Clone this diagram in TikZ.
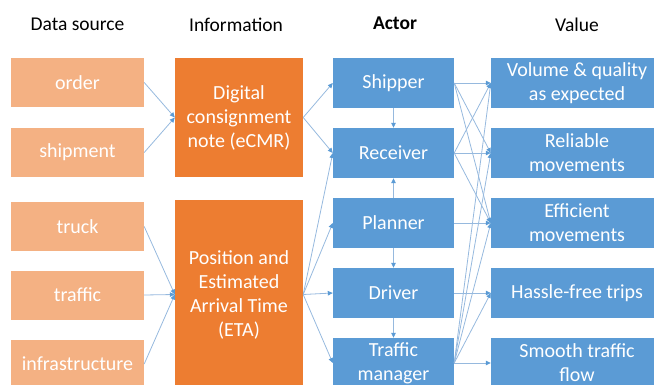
\documentclass[tikz,border=0pt]{standalone}
\usepackage{fontspec}
\setmainfont{Carlito}
\usetikzlibrary{arrows.meta}
\definecolor{srcorange}{RGB}{244,177,131}
\definecolor{infoorange}{RGB}{237,125,49}
\definecolor{actorblue}{RGB}{91,155,213}
\definecolor{linkblue}{RGB}{150,185,222}
\definecolor{tipblue}{RGB}{91,155,213}
\begin{document}
\begin{tikzpicture}[x=1pt,y=-1pt,
  box/.style={rectangle, inner sep=0pt, text=white, align=center,
    font=\fontsize{20}{24}\selectfont},
  srcbox/.style={box, fill=srcorange, minimum width=133pt, minimum height=49pt},
  infobox/.style={box, fill=infoorange, minimum width=128pt},
  actorbox/.style={box, fill=actorblue, minimum width=121pt, minimum height=50pt},
  valuebox/.style={box, fill=actorblue, minimum width=172pt, minimum height=50pt},
  header/.style={anchor=base, text=black, font=\fontsize{19.5}{23}\selectfont},
  link/.style={draw=linkblue, line width=0.8pt,
    -{Triangle[length=5pt,width=4.5pt,color=tipblue]}}
]
\useasboundingbox (0,0) rectangle (654,385);

% column headers
\node[header] (hsrc) at (77.5,30.5) {Data source};
\node[header] (hinfo) at (236,31.5) {Information};
\node[header, font=\fontsize{19.5}{23}\selectfont\bfseries] (hact) at (395,30) {Actor};
\node[header] (hval) at (577,31.5) {Value};

\begin{scope}
\clip (0,0) rectangle (654,385);
% data sources
\node[srcbox] (order) at (77.5,82.5) {order};
\node[srcbox] (shipment) at (77.5,152.5) {shipment};
\node[srcbox] (truck) at (77.5,226.5) {truck};
\node[srcbox] (traffic) at (77.5,295) {traffic};
\node[srcbox] (infra) at (77.5,364) {infrastructure};
% information
\node[infobox, minimum height=119pt] (ecmr) at (239,117.5)
  {Digital\\consignment\\note (eCMR)};
\node[infobox, minimum height=189pt] (eta) at (239,294.5)
  {Position and\\Estimated\\Arrival Time\\(ETA)};
% actors
\node[actorbox] (shipper) at (393.5,83) {Shipper};
\node[actorbox] (receiver) at (393.5,153) {Receiver};
\node[actorbox] (planner) at (393.5,223) {Planner};
\node[actorbox] (driver) at (393.5,293) {Driver};
\node[actorbox] (tman) at (393.5,363) {Traffic\\manager};
% values
\node[valuebox] (volume) at (577,83) {Volume \& quality\\as expected};
\node[valuebox] (reliable) at (577,153) {Reliable\\movements};
\node[valuebox] (efficient) at (577,223) {Efficient\\movements};
\node[valuebox] (hassle) at (577,293) {Hassle-free trips};
\node[valuebox] (smooth) at (577,363) {Smooth traffic\\flow};
\end{scope}

% data sources to information
\draw[link] (order.east) -- (ecmr.west);
\draw[link] (shipment.east) -- (ecmr.west);
\draw[link] (truck.east) -- (eta.west);
\draw[link] (traffic.east) -- (eta.west);
\draw[link] (infra.east) -- (eta.west);

% information to actors
\draw[link] (ecmr.east) -- (shipper.west);
\draw[link] (ecmr.east) -- (receiver.west);
\draw[link] (eta.east) -- (receiver.west);
\draw[link] (eta.east) -- (planner.west);
\draw[link] (eta.east) -- (driver.west);
\draw[link] (eta.east) -- (tman.west);

% between actors
\draw[link] (shipper.south) -- (receiver.north);
\draw[link] (planner.north) -- (receiver.south);
\draw[link] (planner.south) -- (driver.north);
\draw[link] (driver.south) -- (tman.north);

% actors to values
\draw[link] (shipper.east) -- (volume.west);
\draw[link] (shipper.east) -- (reliable.west);
\draw[link] (shipper.east) -- (efficient.west);
\draw[link] (receiver.east) -- (volume.west);
\draw[link] (receiver.east) -- (reliable.west);
\draw[link] (receiver.east) -- (efficient.west);
\draw[link] (planner.east) -- (efficient.west);
\draw[link] (driver.east) -- (hassle.west);
\draw[link] (tman.east) -- (volume.west);
\draw[link] (tman.east) -- (reliable.west);
\draw[link] (tman.east) -- (efficient.west);
\draw[link] (tman.east) -- (hassle.west);
\draw[link] (tman.east) -- (smooth.west);
\end{tikzpicture}
\end{document}
